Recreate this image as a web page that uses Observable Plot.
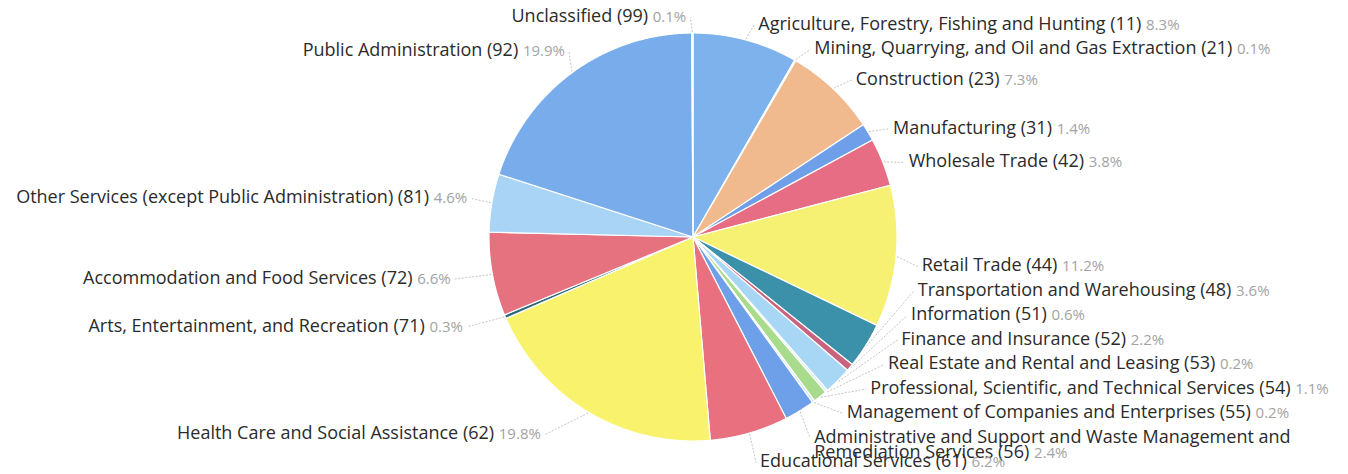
<!DOCTYPE html>
<html>
<head>
<meta charset="utf-8">
<script src="https://cdn.jsdelivr.net/npm/d3@7"></script>
<script src="https://cdn.jsdelivr.net/npm/@observablehq/plot@0.6"></script>
<style>
  html, body { margin: 0; padding: 0; background: #fff; }
  #chart svg { display: block; }
</style>
</head>
<body>
<div id="chart"></div>
<script>
// ---- data (clockwise from 12 o'clock) ----
const industries = [
  "Agriculture, Forestry, Fishing and Hunting",
  "Mining, Quarrying, and Oil and Gas Extraction",
  "Construction",
  "Manufacturing",
  "Wholesale Trade",
  "Retail Trade",
  "Transportation and Warehousing",
  "Information",
  "Finance and Insurance",
  "Real Estate and Rental and Leasing",
  "Professional, Scientific, and Technical Services",
  "Management of Companies and Enterprises",
  "Administrative and Support and Waste Management and Remediation Services",
  "Educational Services",
  "Health Care and Social Assistance",
  "Arts, Entertainment, and Recreation",
  "Accommodation and Food Services",
  "Other Services (except Public Administration)",
  "Public Administration",
  "Unclassified"
];
const codes = ["11","21","23","31","42","44","48","51","52","53","54","55","56","61","62","71","72","81","92","99"];
const shares = [8.3, 0.1, 7.3, 1.4, 3.8, 11.2, 3.6, 0.6, 2.2, 0.2, 1.1, 0.2, 2.4, 6.2, 19.8, 0.3, 6.6, 4.6, 19.9, 0.1];
const sliceColors = [
  "#7eb2ec", "#a9d6f6", "#f1b98e", "#6f9fe8", "#e66d84", "#f7f173", "#3b91a9", "#c9637f",
  "#a8d7f6", "#dcecf8", "#a8dc8c", "#d2e6f6", "#6e9fe9", "#e8707f", "#f8f26c", "#2f6a78",
  "#e6717f", "#a9d4f6", "#78acea", "#dfeefc"
];

// ---- layout constants ----
const W = 1348, H = 474;
const cx = 692.5, cy = 236.5, R = 204;
const labelR = 230, labelRLowerLeft = 245, labelCy = 242, gap = 24.5, minY = 17, maxY = 462;
const fontSize = 18, wrapAt = 60;

const rows = industries.map((name, i) => ({name, code: codes[i], share: shares[i], color: sliceColors[i]}));
const arcs = d3.pie().sort(null).value(d => d.share)(rows);

// slice polygons
const polys = [];
arcs.forEach((a, i) => {
  const step = Math.PI / 720;
  const n = Math.max(2, Math.ceil((a.endAngle - a.startAngle) / step));
  polys.push({k: i, px: cx, py: cy, color: a.data.color});
  for (let j = 0; j <= n; j++) {
    const t = a.startAngle + (a.endAngle - a.startAngle) * j / n;
    polys.push({k: i, px: cx + R * Math.sin(t), py: cy - R * Math.cos(t), color: a.data.color});
  }
  polys.push({k: i, px: cx, py: cy, color: a.data.color});
});

// word wrap long labels
function wrap(s, max) {
  const words = s.split(" "); const lines = []; let cur = "";
  for (const w of words) {
    if ((cur + " " + w).trim().length > max && cur) { lines.push(cur); cur = w; }
    else cur = (cur + " " + w).trim();
  }
  lines.push(cur);
  return lines;
}

// labels
const labels = arcs.map(a => {
  const mid = (a.startAngle + a.endAngle) / 2;
  const lines = wrap(`${a.data.name} (${a.data.code}) ${a.data.share}%`, wrapAt);
  return {mid, side: Math.sin(mid) >= 0 ? 1 : -1, text: lines.join("\n"), nLines: lines.length};
});
function layoutSide(items, side, shift) {
  items.forEach(d => d.ideal = cy - labelR * Math.cos(d.mid) + shift);
  items.sort((a, b) => a.ideal - b.ideal);
  let prev = -Infinity;
  for (const d of items) { d.ly = Math.max(d.ideal, prev + gap, minY); prev = d.ly; }
  let next = Infinity;
  for (let i = items.length - 1; i >= 0; i--) { const d = items[i]; d.ly = Math.min(d.ly, next - gap, maxY); next = d.ly; }
  items.forEach(d => {
    const dy = d.ly - labelCy;
    const r = (side < 0 && Math.cos(d.mid) < 0) ? labelRLowerLeft : labelR;
    let off = Math.sqrt(Math.max(0, r * r - dy * dy));
    if (Math.cos(d.mid) > 0) off = Math.min(off, labelR * Math.abs(Math.sin(d.mid)) + 6);
    d.lx = cx + side * off;
    d.ty = d.ly + (d.nLines - 1) * fontSize * 0.83 / 2;
    d.ex = cx + (R + 1) * Math.sin(d.mid);
    d.ey = cy - (R + 1) * Math.cos(d.mid);
    d.lxEnd = d.lx - side * 4;
  });
}
const right = labels.filter(d => d.side > 0);
const left = labels.filter(d => d.side < 0);
layoutSide(right, 1, 10);
layoutSide(left, -1, 0);

const textStyle = {fontSize, fill: "#2b2b2b", lineHeight: 0.83, fontFamily: "'Open Sans', sans-serif"};

const chart = Plot.plot({
  width: W, height: H,
  margin: 0,
  x: {domain: [0, W], range: [0, W], axis: null},
  y: {domain: [0, H], range: [0, H], axis: null},
  style: {background: "#fff", overflow: "visible"},
  marks: [
    Plot.line(polys, {x: "px", y: "py", z: "k", fill: "color", stroke: "#ffffff", strokeWidth: 1.2, strokeLinejoin: "round"}),
    Plot.link(labels, {x1: "ex", y1: "ey", x2: "lxEnd", y2: "ly", stroke: "#b5b5b5", strokeWidth: 0.8, strokeDasharray: "2,1.5"}),
    Plot.text(right, {x: "lx", y: "ty", text: "text", textAnchor: "start", ...textStyle}),
    Plot.text(left, {x: "lx", y: "ty", text: "text", textAnchor: "end", ...textStyle})
  ]
});

// color the percentage part grey
chart.querySelectorAll("text, tspan").forEach(el => {
  for (const node of Array.from(el.childNodes)) {
    if (node.nodeType !== 3) continue;
    const m = node.nodeValue.match(/^(.*\S)\s+(\d+(?:\.\d+)?%)$/);
    if (!m) continue;
    node.nodeValue = m[1] + " ";
    const t = document.createElementNS("http://www.w3.org/2000/svg", "tspan");
    t.setAttribute("fill", "#a3a3a3");
    t.setAttribute("font-size", "15");
    t.textContent = m[2];
    el.insertBefore(t, node.nextSibling);
  }
});

document.getElementById("chart").appendChild(chart);
</script>
</body>
</html>
